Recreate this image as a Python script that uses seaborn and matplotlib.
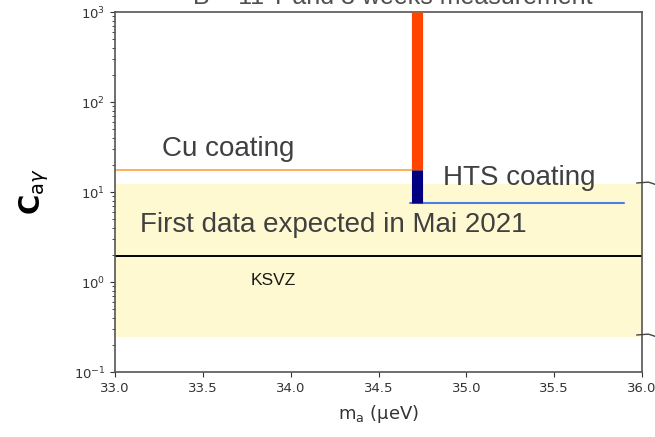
import numpy as np
import pandas as pd
import matplotlib
matplotlib.use("Agg")
import matplotlib.pyplot as plt
import seaborn as sns
from matplotlib.lines import Line2D

sns.set_style("ticks")
plt.rcParams['font.family'] = ['DejaVu Sans']

# ---- data ----
x_range = [33.0, 36.0]
y_range = [0.1, 1000.0]
xticks = [33.0, 33.5, 34.0, 34.5, 35.0, 35.5, 36.0]

cu_x = [33.0, 34.75]
cu_y = [17.5, 17.5]
hts_x = [34.68, 35.9]
hts_y = [7.6, 7.6]
ksvz_x = [33.0, 36.0]
ksvz_y = [1.95, 1.95]

bar_x = 34.72
cu_bar = [17.5, 1000.0]
hts_bar = [7.6, 17.5]

band_y = [0.245, 12.3]

lines = pd.DataFrame({
    "m": cu_x + hts_x + ksvz_x,
    "c": cu_y + hts_y + ksvz_y,
    "name": ["Cu"] * 2 + ["HTS"] * 2 + ["KSVZ"] * 2,
})

fig = plt.figure(figsize=(6.55, 4.37), dpi=100)
ax = fig.add_axes([0.1756, 0.1487, 0.8046, 0.8238])

ax.axhspan(band_y[0], band_y[1], color="#FFF9D2", zorder=0, lw=0)

sns.lineplot(data=lines, x="m", y="c", hue="name",
             palette={"Cu": "#FFA040", "HTS": "#4A7FE8", "KSVZ": "black"},
             ax=ax, legend=False, estimator=None, sort=False)
for l, lw in zip(ax.get_lines(), [1.2, 1.5, 1.4]):
    l.set_linewidth(lw)

ax.plot([bar_x, bar_x], cu_bar, color="#FF4500", lw=8, solid_capstyle="butt", zorder=3)
ax.plot([bar_x, bar_x], hts_bar, color="#000080", lw=8, solid_capstyle="butt", zorder=3)

ax.set_yscale("log")
ax.set_xlim(*x_range)
ax.set_ylim(*y_range)
ax.set_xticks(xticks)
ax.set_xticklabels([f"{t:.1f}" for t in xticks])
ax.tick_params(labelsize=9.5, colors="#333333", labelcolor="#333333")
for s in ax.spines.values():
    s.set_color("#555555")
    s.set_linewidth(1.2)

ax.set_xlabel("m$_\\mathrm{a}$ (μeV)", fontsize=13, color="#333333", labelpad=6)
ax.set_ylabel("C$_{\\mathrm{a}γ}$", fontsize=20, fontweight="bold", color="black", labelpad=16)

arial = ["Liberation Sans", "DejaVu Sans"]
ax.text(33.27, 30, "Cu coating", fontsize=20, color="#404040", va="center", family=arial)
ax.text(34.867, 14.3, "HTS coating", fontsize=20, color="#404040", va="center", family=arial)
ax.text(33.142, 4.3, "First data expected in Mai 2021", fontsize=20, color="#404040",
        va="center", family=arial)
ax.text(33.77, 1.05, "KSVZ", fontsize=12.5, color="#1a1a1a", va="center", family=arial)

fig.text(0.60, 1 - 3.5 / 437, "B = 11 T and 3 weeks measurement", fontsize=18, color="#505050",
         ha="center", va="baseline", family=arial)

# brace fragments at right edge
for yy in [1 - 183 / 437, 1 - 335 / 437]:
    fig.add_artist(Line2D([0.972, 0.99, 1.0], [yy, yy + 0.002, yy - 0.003],
                          color="#444444", lw=1.0))

fig.savefig("out.png", dpi=100)
